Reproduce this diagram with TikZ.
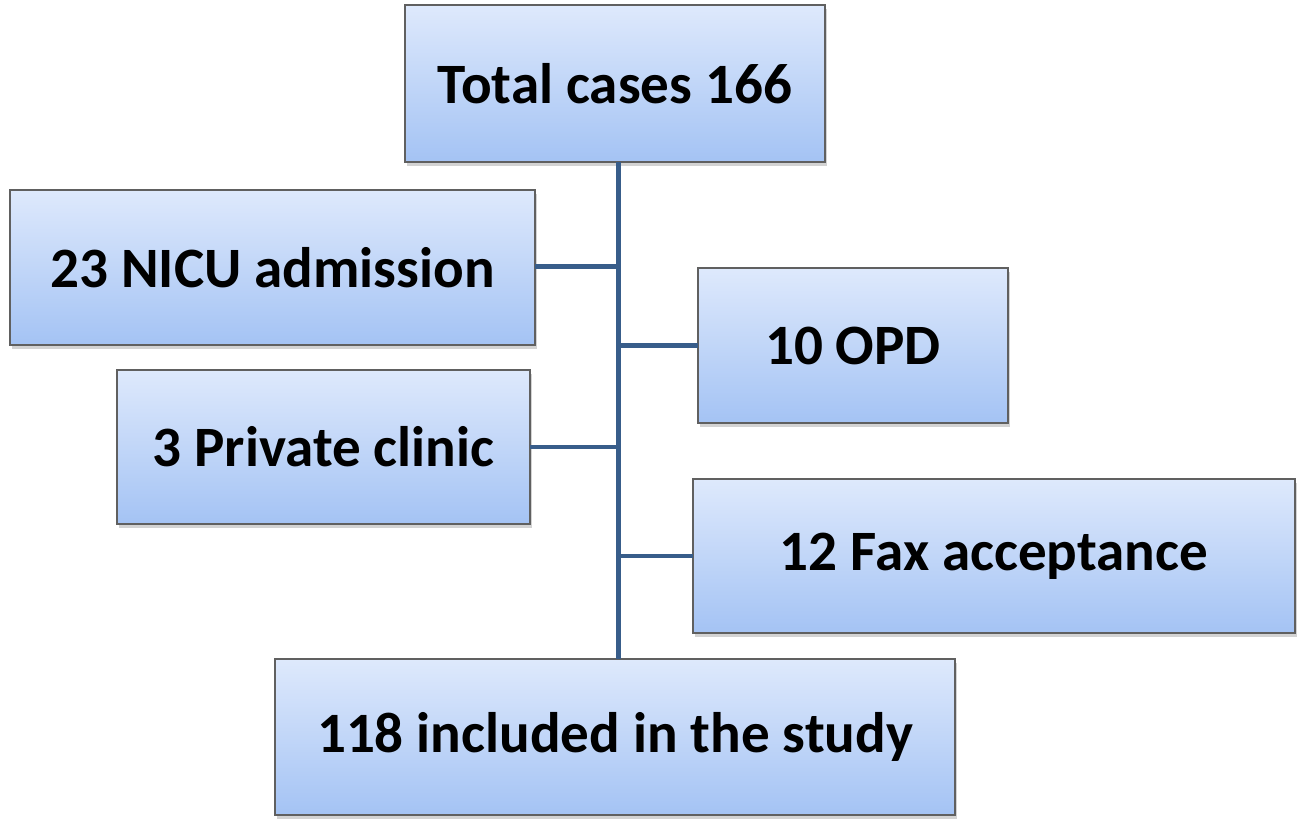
\documentclass[tikz,border=0pt]{standalone}
\usepackage{fontspec}
\setmainfont{Carlito}
\usetikzlibrary{shadows}
\definecolor{linkblue}{RGB}{56,93,138}
\definecolor{boxtop}{RGB}{222,233,252}
\definecolor{boxbot}{RGB}{164,195,244}
\tikzset{
  stagebox/.style={draw=gray!75!black,line width=0.7pt,top color=boxtop,bottom color=boxbot,
    inner sep=0pt,outer sep=0pt,font=\fontsize{32.5}{38}\selectfont\bfseries,
    drop shadow={shadow xshift=1.2pt,shadow yshift=-2.2pt,opacity=0.35}},
  link/.style={linkblue,line width=2.8pt}
}
\begin{document}
\begin{tikzpicture}[x=0.02cm,y=-0.02cm]
  \useasboundingbox (0,0) rectangle (1308,834);

  \node[stagebox,minimum width=8.4cm,minimum height=3.14cm] (total) at (615,83.5) {Total cases 166};
  \node[stagebox,minimum width=10.5cm,minimum height=3.1cm] (nicu) at (272.5,267.5) {23 NICU admission};
  \node[stagebox,minimum width=6.2cm,minimum height=3.1cm] (opd) at (853,345.5) {10 OPD};
  \node[stagebox,minimum width=8.26cm,minimum height=3.08cm] (clinic) at (323.5,447) {3 Private clinic};
  \node[stagebox,minimum width=12.04cm,minimum height=3.08cm] (fax) at (994,556) {12 Fax acceptance};
  \node[stagebox,minimum width=13.6cm,minimum height=3.12cm] (study) at (615,737) {118 included in the study};

  % trunk and branches
  \coordinate (top) at ([xshift=2]total.south);
  \draw[link] (top) -- (top |- study.north);
  \draw[link] ([yshift=0.5]nicu.east) -- ([yshift=0.5]nicu.east -| top);
  \draw[link] (opd.west) -- (opd.west -| top);
  \draw[link] (clinic.east) -- (clinic.east -| top);
  \draw[link] (fax.west) -- (fax.west -| top);
\end{tikzpicture}
\end{document}
